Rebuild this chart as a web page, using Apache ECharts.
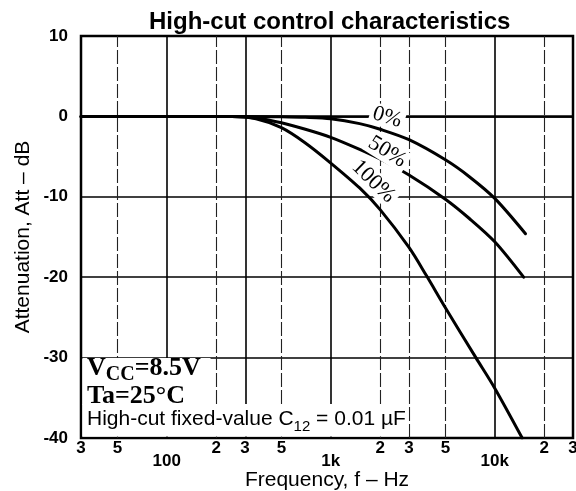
<!DOCTYPE html>
<html>
<head>
<meta charset="utf-8">
<script src="https://cdn.jsdelivr.net/npm/echarts@6/dist/echarts.min.js"></script>
<style>
  html, body { margin: 0; padding: 0; background: #fff; }
  #chart { width: 576px; height: 491px; }
</style>
</head>
<body>
<div id="chart"></div>
<script>
// Frequency axis: grid positions (Hz) and their printed labels
const tickFreqs  = [30, 50, 100, 200, 300, 500, 1000, 2000, 3000, 5000, 10000, 20000, 30000];
const tickLabels = ['3', '5', '100', '2', '3', '5', '1k', '2', '3', '5', '10k', '2', '3'];
const decadeFreqs = [100, 1000, 10000];
const solidFreqs  = [100, 300, 1000, 10000];

// Attenuation axis (dB)
const yMin = -40, yMax = 10, yStep = 10;

// High-cut control setting 0 %
const freq0 = [30, 100, 300, 500, 700, 1000, 1500, 2000, 3000, 5000, 7000, 10000, 15400];
const att0  = [0, 0, 0, -0.05, -0.12, -0.3, -0.9, -1.6, -2.9, -5.4, -7.5, -10.2, -14.6];

// High-cut control setting 50 %
const freq50 = [30, 100, 250, 350, 500, 700, 1000, 1500, 2000, 3000, 5000, 7000, 10000, 15000];
const att50  = [0, 0, 0, -0.2, -0.8, -1.6, -2.6, -4.1, -5.3, -7.3, -10.3, -12.7, -15.6, -20.0];

// High-cut control setting 100 %
const freq100 = [30, 100, 250, 350, 500, 700, 1000, 1500, 2000, 3000, 3830, 5000, 7670, 10000, 14700];
const att100  = [0, 0, 0, -0.3, -1.4, -3.3, -5.8, -8.9, -11.6, -16.3, -19.8, -23.8, -30.0, -33.8, -40.0];

// Curve captions and where they sit (Hz, dB) plus their tilt in degrees
const curveNames  = ['0%', '50%', '100%'];
const captionFreq = [2210, 2210, 1820];
const captionAtt  = [-0.1, -4.4, -8.1];
const captionTilt = [-17, -32, -44];

const lg = Math.log10;
const toPairs = (fs, as) => fs.map((f, i) => [lg(f), as[i]]);

const FONT_SANS = '"Liberation Sans", Arial, sans-serif';
const FONT_SERIF = '"Liberation Serif", "Times New Roman", serif';

const chart = echarts.init(document.getElementById('chart'), null, { renderer: 'canvas' });

const curveStyle = { color: '#000', width: 3, cap: 'round', join: 'round' };

function curveSeries(name, fs, as) {
  return {
    name: name,
    type: 'line',
    data: toPairs(fs, as),
    showSymbol: false,
    smooth: 0.3,
    z: 5,
    lineStyle: curveStyle,
    silent: true
  };
}

const gridLines = tickFreqs
  .filter(f => f > tickFreqs[0] && f < tickFreqs[tickFreqs.length - 1])
  .map(f => ({
    xAxis: lg(f),
    lineStyle: solidFreqs.includes(f)
      ? { color: '#000', width: 1.6, type: 'solid' }
      : { color: '#222', width: 1.1, type: [14, 3] }
  }));
gridLines.push({ yAxis: 0, lineStyle: { color: '#000', width: 2.6, type: 'solid' } });

chart.setOption({
  animation: false,
  backgroundColor: '#fff',
  title: {
    text: 'High-cut control characteristics',
    left: 144,
    top: 5,
    textStyle: { fontFamily: FONT_SANS, fontSize: 24, fontWeight: 'bold', color: '#000' }
  },
  grid: {
    left: 81, right: 3, top: 36, bottom: 53,
    outerBoundsMode: 'none',
    containLabel: false,
    show: true, borderColor: '#000', borderWidth: 2.5, backgroundColor: 'transparent'
  },
  xAxis: {
    type: 'value',
    min: lg(tickFreqs[0]),
    max: lg(tickFreqs[tickFreqs.length - 1]),
    name: 'Frequency, f – Hz',
    nameLocation: 'middle',
    nameGap: 32,
    nameMoveOverlap: false,
    nameTextStyle: { fontFamily: FONT_SANS, fontSize: 21, color: '#000' },
    axisLine: { show: false },
    axisTick: { show: false },
    splitLine: { show: false },
    axisLabel: {
      customValues: tickFreqs.map(lg),
      margin: 2,
      color: '#000',
      formatter: v => {
        const f = Math.round(Math.pow(10, v));
        const i = tickFreqs.indexOf(f);
        if (i < 0) return '';
        return decadeFreqs.includes(f) ? '{d|' + tickLabels[i] + '}' : '{n|' + tickLabels[i] + '}';
      },
      rich: {
        n: { fontFamily: FONT_SANS, fontSize: 17, fontWeight: 'bold', color: '#000' },
        d: { fontFamily: FONT_SANS, fontSize: 17, fontWeight: 'bold', color: '#000', padding: [13, 0, 0, 0] }
      }
    }
  },
  yAxis: {
    type: 'value',
    min: yMin, max: yMax, interval: yStep,
    name: 'Attenuation, Att – dB',
    nameLocation: 'middle',
    nameGap: 47,
    nameMoveOverlap: false,
    nameTextStyle: { fontFamily: FONT_SANS, fontSize: 21, color: '#000' },
    axisLine: { show: false },
    axisTick: { show: false },
    axisLabel: { margin: 13, fontFamily: FONT_SANS, fontSize: 17, fontWeight: 'bold', color: '#000' },
    splitLine: { show: true, lineStyle: { color: '#000', width: 1.6 } }
  },
  series: [
    {
      name: 'grid',
      type: 'line',
      data: [],
      silent: true,
      z: 1,
      markLine: {
        silent: true,
        symbol: ['none', 'none'],
        label: { show: false },
        animation: false,
        data: gridLines
      }
    },
    curveSeries(curveNames[0], freq0, att0),
    curveSeries(curveNames[1], freq50, att50),
    curveSeries(curveNames[2], freq100, att100)
  ]
});

// Captions on the curves and the test-condition notes in the lower-left corner
const captions = curveNames.map((name, i) => {
  const p = chart.convertToPixel({ gridIndex: 0 }, [lg(captionFreq[i]), captionAtt[i]]);
  return {
    type: 'text',
    x: p[0], y: p[1],
    rotation: captionTilt[i] * Math.PI / 180,
    z: 20,
    style: {
      text: name,
      font: '22px ' + FONT_SERIF,
      fill: '#000',
      align: 'center',
      verticalAlign: 'middle',
      backgroundColor: '#fff',
      padding: [0, 3, 0, 3]
    }
  };
});

chart.setOption({
  graphic: captions.concat([
    { type: 'rect', z: 15, shape: { x: 82.5, y: 358, width: 128, height: 47 }, style: { fill: '#fff' } },
    { type: 'rect', z: 15, shape: { x: 82.5, y: 404, width: 326, height: 32.5 }, style: { fill: '#fff' } },
    {
      type: 'text', z: 20, x: 87, y: 355,
      style: {
        text: '{b|V}{s|CC}{b|=8.5V}',
        rich: {
          b: { fontFamily: FONT_SERIF, fontSize: 26, fontWeight: 'bold', fill: '#000', verticalAlign: 'top', lineHeight: 26 },
          s: { fontFamily: FONT_SERIF, fontSize: 20, fontWeight: 'bold', fill: '#000', verticalAlign: 'top', lineHeight: 20, padding: [10, 0, 0, 0] }
        }
      }
    },
    {
      type: 'text', z: 20, x: 87, y: 383,
      style: { text: 'Ta=25°C', font: 'bold 26px ' + FONT_SERIF, fill: '#000' }
    },
    {
      type: 'text', z: 20, x: 87, y: 409,
      style: {
        text: '{r|High-cut fixed-value C}{s|12}{r| = 0.01 µF}',
        rich: {
          r: { fontFamily: FONT_SANS, fontSize: 21, fill: '#000', verticalAlign: 'top', lineHeight: 21 },
          s: { fontFamily: FONT_SANS, fontSize: 15, fill: '#000', verticalAlign: 'top', lineHeight: 15, padding: [10, 0, 0, 0] }
        }
      }
    }
  ])
});
</script>
</body>
</html>
